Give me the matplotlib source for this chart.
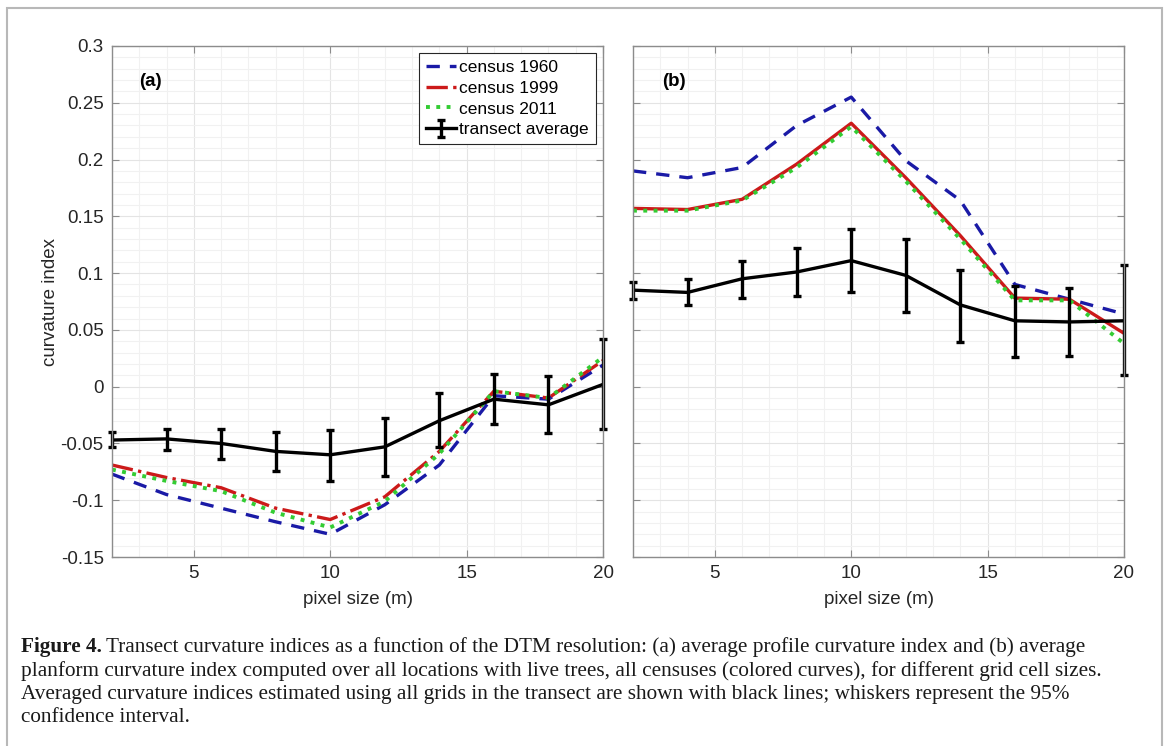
import numpy as np
import matplotlib
matplotlib.use("Agg")
import matplotlib.pyplot as plt
from matplotlib.patches import Rectangle
from matplotlib.ticker import FixedLocator, MultipleLocator, FixedFormatter

# pixel size (m) op de x-as
pixel_size = [2, 4, 6, 8, 10, 12, 14, 16, 18, 20]

# paneel (a): profile curvature
a_1960 = [-0.077, -0.095, -0.107, -0.119, -0.130, -0.104, -0.069, -0.008, -0.011, 0.019]
a_1999 = [-0.069, -0.080, -0.089, -0.107, -0.117, -0.097, -0.057, -0.004, -0.010, 0.023]
a_2011 = [-0.073, -0.083, -0.092, -0.111, -0.124, -0.101, -0.059, -0.004, -0.010, 0.026]
a_mean = [-0.047, -0.046, -0.050, -0.057, -0.060, -0.053, -0.030, -0.011, -0.016, 0.002]
a_lo = [-0.053, -0.056, -0.064, -0.074, -0.083, -0.079, -0.053, -0.033, -0.041, -0.037]
a_hi = [-0.040, -0.037, -0.037, -0.040, -0.038, -0.028, -0.006, 0.011, 0.009, 0.042]

# paneel (b): planform curvature
b_1960 = [0.190, 0.184, 0.193, 0.230, 0.255, 0.199, 0.164, 0.090, 0.077, 0.064]
b_1999 = [0.157, 0.156, 0.165, 0.196, 0.232, 0.184, 0.133, 0.078, 0.077, 0.047]
b_2011 = [0.155, 0.155, 0.164, 0.193, 0.229, 0.181, 0.130, 0.076, 0.076, 0.038]
b_mean = [0.085, 0.083, 0.095, 0.101, 0.111, 0.098, 0.072, 0.058, 0.057, 0.058]
b_lo = [0.077, 0.072, 0.078, 0.080, 0.083, 0.066, 0.039, 0.026, 0.027, 0.010]
b_hi = [0.092, 0.095, 0.111, 0.122, 0.139, 0.130, 0.103, 0.089, 0.087, 0.107]

x_ticks = [5, 10, 15, 20]
y_ticks = [-0.15, -0.1, -0.05, 0, 0.05, 0.1, 0.15, 0.2, 0.25, 0.3]
y_ticklabels = ["-0.15", "-0.1", "-0.05", "0", "0.05", "0.1", "0.15", "0.2", "0.25", "0.3"]

caption_lines = [
    "Transect curvature indices as a function of the DTM resolution: (a) average profile curvature index and (b) average",
    "planform curvature index computed over all locations with live trees, all censuses (colored curves), for different grid cell sizes.",
    "Averaged curvature indices estimated using all grids in the transect are shown with black lines; whiskers represent the 95%",
    "confidence interval.",
]

plt.rcParams["font.family"] = ["Liberation Sans", "DejaVu Sans"]

W, H = 1170, 746
fig = plt.figure(figsize=(W / 100, H / 100), dpi=100)

# kader rond de hele figuur
fig.add_artist(Rectangle((7 / W, -0.05), (1162 - 7) / W, 1 - 8 / H + 0.05,
                         transform=fig.transFigure, fill=False, ec="#b8b8b8", lw=1.5))

ax_a = fig.add_axes([112 / W, 1 - 557 / H, 491 / W, 511 / H])
ax_b = fig.add_axes([633 / W, 1 - 557 / H, 491 / W, 511 / H])

blauw = "#1a1aa6"
rood = "#cc1a1a"
groen = "#33cc33"
lw = 2.4


def opmaak(ax, labels):
    ax.set_xlim(2, 20)
    ax.set_ylim(-0.15, 0.3)
    ax.xaxis.set_major_locator(FixedLocator(x_ticks))
    ax.xaxis.set_minor_locator(MultipleLocator(1))
    ax.yaxis.set_major_locator(FixedLocator(y_ticks))
    ax.yaxis.set_minor_locator(MultipleLocator(0.01))
    if labels:
        ax.yaxis.set_major_formatter(FixedFormatter(y_ticklabels))
    else:
        ax.set_yticklabels([])
    ax.grid(which="major", color="#e4e4e4", lw=0.8)
    ax.grid(which="minor", color="#f1f1f1", lw=0.8)
    ax.set_axisbelow(True)
    ax.tick_params(which="major", direction="in", length=5, top=True, right=True,
                   color="#8c8c8c", labelcolor="#262626", labelsize=13.5, pad=6)
    ax.tick_params(which="minor", length=0)
    for s in ax.spines.values():
        s.set_color("#8c8c8c")
        s.set_linewidth(1.0)
    ax.set_xlabel("pixel size (m)", fontsize=13.5, color="#262626", labelpad=6)


# paneel (a)
ax_a.plot(pixel_size, a_1960, "--", color=blauw, lw=lw, dashes=(4, 3), label="census 1960")
ax_a.plot(pixel_size, a_1999, "-.", color=rood, lw=lw, label="census 1999")
ax_a.plot(pixel_size, a_2011, ":", color=groen, lw=lw + 0.4, label="census 2011")
a_err = [np.array(a_mean) - np.array(a_lo), np.array(a_hi) - np.array(a_mean)]
eb = ax_a.errorbar(pixel_size, a_mean, yerr=a_err, color="black", lw=lw, elinewidth=lw,
                   capsize=3, capthick=lw, label="transect average")
for art in eb.lines[1] + eb.lines[2]:
    art.set_clip_on(False)
opmaak(ax_a, True)
ax_a.set_ylabel("curvature index", fontsize=13.5, color="#262626", labelpad=1)
ax_a.text(0.055, 0.93, "(a)", transform=ax_a.transAxes, fontsize=13.5, weight="bold",
          va="center", ha="left")
leg = ax_a.legend(loc="upper right", bbox_to_anchor=(0.985, 0.987), borderaxespad=0,
                  fontsize=12.5, fancybox=False, framealpha=1, edgecolor="#262626",
                  handlelength=1.7, handletextpad=0.2, labelspacing=0.33,
                  borderpad=0.4)
leg.get_frame().set_linewidth(0.8)

# paneel (b)
ax_b.plot(pixel_size, b_1960, "--", color=blauw, lw=lw, dashes=(4, 3))
ax_b.plot(pixel_size, b_1999, "-", color=rood, lw=lw)
ax_b.plot(pixel_size, b_2011, ":", color=groen, lw=lw + 0.4)
b_err = [np.array(b_mean) - np.array(b_lo), np.array(b_hi) - np.array(b_mean)]
eb = ax_b.errorbar(pixel_size, b_mean, yerr=b_err, color="black", lw=lw, elinewidth=lw,
                   capsize=3, capthick=lw)
for art in eb.lines[1] + eb.lines[2]:
    art.set_clip_on(False)
opmaak(ax_b, False)
ax_b.text(0.059, 0.93, "(b)", transform=ax_b.transAxes, fontsize=13.5, weight="bold",
          va="center", ha="left")

# onderschrift
x0 = 21 / W
basislijnen = [652, 676, 699, 722]
cap_kw = dict(family=["Liberation Serif", "DejaVu Serif"], fontsize=15.3, va="baseline",
              ha="left", color="#1a1a1a")
t = fig.text(x0, 1 - basislijnen[0] / H, "Figure 4.", weight="bold", **cap_kw)
fig.canvas.draw()
bb = t.get_window_extent(renderer=fig.canvas.get_renderer())
fig.text((bb.x1 + 4) / W, 1 - basislijnen[0] / H, caption_lines[0], **cap_kw)
for regel, yb in zip(caption_lines[1:], basislijnen[1:]):
    fig.text(x0, 1 - yb / H, regel, **cap_kw)

fig.savefig("out.png", dpi=100)
